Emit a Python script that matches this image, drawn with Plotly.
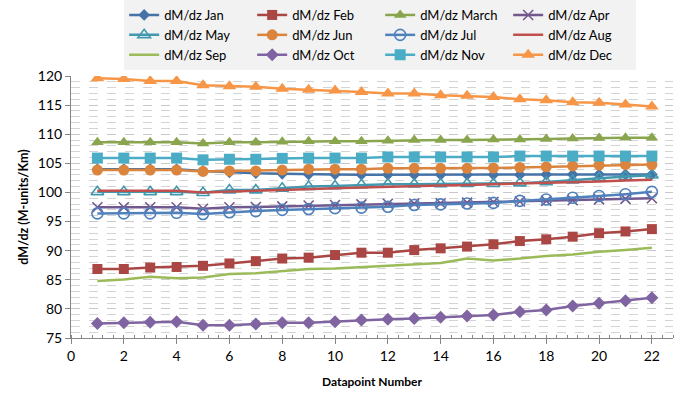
import plotly.graph_objects as go

points = list(range(1, 23))

jan = [104.0, 104.0, 104.0, 104.0, 103.7, 103.45, 103.3, 103.2, 103.1, 103.1, 103.05, 103.05, 103.05, 103.05, 103.05, 103.05, 103.05, 103.1, 103.1, 103.1, 103.1, 103.1]
feb = [86.85, 86.85, 87.1, 87.2, 87.4, 87.8, 88.2, 88.65, 88.8, 89.25, 89.65, 89.65, 90.1, 90.4, 90.7, 91.1, 91.65, 91.95, 92.4, 93.0, 93.3, 93.7]
march = [108.6, 108.6, 108.6, 108.6, 108.4, 108.6, 108.6, 108.7, 108.8, 108.8, 108.8, 108.9, 109.0, 109.0, 109.0, 109.1, 109.1, 109.2, 109.25, 109.35, 109.4, 109.4]
apr = [97.45, 97.45, 97.45, 97.45, 97.2, 97.45, 97.5, 97.6, 97.75, 97.85, 97.95, 98.05, 98.1, 98.15, 98.25, 98.35, 98.45, 98.55, 98.65, 98.8, 98.9, 99.0]
may = [100.1, 100.1, 100.1, 100.1, 99.95, 100.4, 100.4, 100.7, 101.0, 101.1, 101.3, 101.4, 101.4, 101.45, 101.5, 101.5, 101.6, 101.8, 102.1, 102.5, 102.75, 102.95]
jun = [103.85, 103.85, 103.85, 103.85, 103.6, 103.7, 103.7, 103.85, 104.0, 104.0, 104.0, 104.15, 104.15, 104.15, 104.15, 104.2, 104.3, 104.4, 104.55, 104.7, 104.8, 104.8]
jul = [96.4, 96.4, 96.4, 96.5, 96.3, 96.6, 96.8, 97.0, 97.15, 97.3, 97.4, 97.55, 97.85, 97.95, 98.1, 98.2, 98.55, 98.8, 99.1, 99.4, 99.7, 100.1]
aug = [100.3, 100.3, 100.3, 100.3, 100.0, 100.2, 100.3, 100.4, 100.5, 100.7, 100.85, 101.0, 101.1, 101.2, 101.3, 101.4, 101.5, 101.65, 101.8, 101.9, 102.05, 102.2]
sep = [84.8, 85.05, 85.5, 85.25, 85.4, 86.0, 86.1, 86.5, 86.85, 86.95, 87.2, 87.5, 87.7, 87.9, 88.65, 88.3, 88.65, 89.1, 89.35, 89.8, 90.1, 90.5]
octo = [77.5, 77.6, 77.7, 77.8, 77.2, 77.2, 77.4, 77.6, 77.6, 77.8, 78.1, 78.2, 78.35, 78.55, 78.8, 78.95, 79.5, 79.8, 80.5, 80.95, 81.4, 81.9]
nov = [105.9, 105.9, 105.9, 105.9, 105.6, 105.7, 105.7, 105.85, 105.9, 105.9, 105.9, 106.1, 106.1, 106.1, 106.1, 106.1, 106.25, 106.25, 106.25, 106.25, 106.25, 106.25]
dec = [119.6, 119.5, 119.15, 119.15, 118.4, 118.25, 118.15, 117.8, 117.65, 117.5, 117.25, 117.0, 117.0, 116.7, 116.6, 116.4, 116.0, 115.85, 115.5, 115.4, 115.1, 114.75]

names = ["dM/dz Jan", "dM/dz Feb", "dM/dz March", "dM/dz Apr", "dM/dz May", "dM/dz Jun",
         "dM/dz Jul", "dM/dz Aug", "dM/dz Sep", "dM/dz Oct", "dM/dz Nov", "dM/dz Dec"]
series = [jan, feb, march, apr, may, jun, jul, aug, sep, octo, nov, dec]
colors = ["#4572A7", "#AA4643", "#89A54E", "#71588F", "#4198AF", "#DB843D",
          "#4F81BD", "#C0504D", "#9BBB59", "#8064A2", "#4BACC6", "#F79646"]
symbols = ["diamond", "square", "triangle-up", "x-thin-open", "triangle-up-open", "circle",
           "circle-open", "none", "none", "diamond", "square", "triangle-up"]
sizes = [9, 10, 11, 10, 11, 11, 11, 0, 0, 10, 11, 12]

fig = go.Figure()
for n, s, c, sym, sz in zip(names, series, colors, symbols, sizes):
    if sym == "none":
        fig.add_trace(go.Scatter(x=points, y=s, name=n, mode="lines",
                                 line=dict(color=c, width=2.5)))
    else:
        mk = dict(symbol=sym, size=sz, color=c)
        if "open" in sym:
            mk["line"] = dict(color=c, width=1.6)
        fig.add_trace(go.Scatter(x=points, y=s, name=n, mode="lines+markers",
                                 line=dict(color=c, width=2.5), marker=mk))

fig.update_layout(
    width=686, height=393,
    margin=dict(l=71, r=13, t=76, b=55, autoexpand=False),
    paper_bgcolor="white", plot_bgcolor="white",
    font=dict(family="Lato, Liberation Sans, sans-serif", size=14, color="#000"),
    showlegend=True,
    legend=dict(orientation="h", xref="container", yref="container",
                x=0.181, xanchor="left", y=1.0, yanchor="top",
                bgcolor="#f2f2f2", entrywidth=83, entrywidthmode="pixels",
                font=dict(size=13), tracegroupgap=0, itemwidth=30,
                traceorder="normal"),
    xaxis=dict(range=[0, 22.8], tickmode="array", tickvals=list(range(0, 23, 2)),
               showgrid=False, zeroline=False, showline=True, linecolor="#868686",
               ticks="outside", ticklen=5, tickcolor="#868686", automargin=False,
               minor=dict(dtick=0.4, tick0=0, ticks="inside", ticklen=3, tickcolor="#868686"),
               title=dict(text="<b>Datapoint Number</b>", font=dict(size=12), standoff=14)),
    yaxis=dict(range=[75, 120], dtick=5, tick0=75, showgrid=True, gridcolor="#c8c8c8",
               griddash="dash", gridwidth=1, zeroline=False, showline=True,
               linecolor="#868686", ticks="outside", ticklen=5, tickcolor="#868686",
               automargin=False,
               minor=dict(dtick=1, showgrid=True, gridcolor="#d4d4d4", griddash="dash", gridwidth=1),
               title=dict(text="<b>dM/dz (M-units/Km)</b>", font=dict(size=12.5), standoff=6)),
)

fig.write_html("out.html", post_script="document.body.style.margin='0';",
               config={"displayModeBar": False})
